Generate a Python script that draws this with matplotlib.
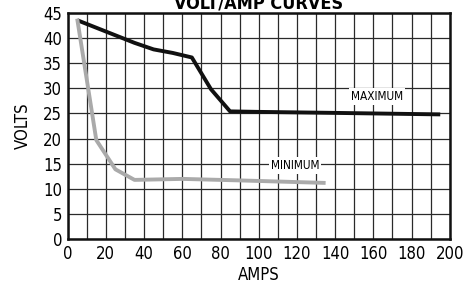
import matplotlib.pyplot as plt

plt.rcParams['font.family'] = ['DejaVu Sans']
plt.rcParams['font.stretch'] = 'condensed'

# data
max_amps = [5, 15, 25, 35, 45, 55, 65, 75, 85, 100, 140, 195]
max_volts = [43.5, 42.0, 40.5, 39.0, 37.7, 37.0, 36.1, 29.8, 25.4, 25.3, 25.1, 24.8]
min_amps = [5, 15, 25, 35, 60, 90, 135]
min_volts = [43.8, 19.7, 13.9, 11.8, 12.0, 11.7, 11.2]

x_ticks = list(range(0, 201, 20))
y_ticks = list(range(0, 46, 5))

fig = plt.figure(figsize=(4.73, 2.87), dpi=100)
ax = fig.add_axes([0.143, 0.166, 0.808, 0.790])

ax.set_xlim(0, 200)
ax.set_ylim(0, 45)
ax.set_xticks(x_ticks)
ax.set_yticks(y_ticks)
ax.set_xticks(range(0, 201, 10), minor=True)
ax.grid(True, which='both', color='#2a2a2a', linewidth=0.9)
ax.tick_params(which='both', length=0, labelsize=12, pad=4)
for sp in ax.spines.values():
    sp.set_linewidth(1.8)
    sp.set_color('#111111')

ax.plot(max_amps, max_volts, color='#111111', linewidth=2.8, solid_capstyle='butt', zorder=3)
ax.plot(min_amps, min_volts, color='#aaaaaa', linewidth=2.8, solid_capstyle='butt', zorder=3)

box = dict(facecolor='white', edgecolor='none', pad=1.5)
ax.text(162, 28.3, 'MAXIMUM', ha='center', va='center', fontsize=8.5, bbox=box, zorder=4)
ax.text(119, 14.6, 'MINIMUM', ha='center', va='center', fontsize=8.5, bbox=box, zorder=4)

ax.set_xlabel('AMPS', fontsize=12, labelpad=2)
ax.set_ylabel('VOLTS', fontsize=12, labelpad=8)
ax.set_title('VOLT/AMP CURVES', fontsize=13, fontweight='bold', pad=3)

fig.savefig('out.png', dpi=100)
